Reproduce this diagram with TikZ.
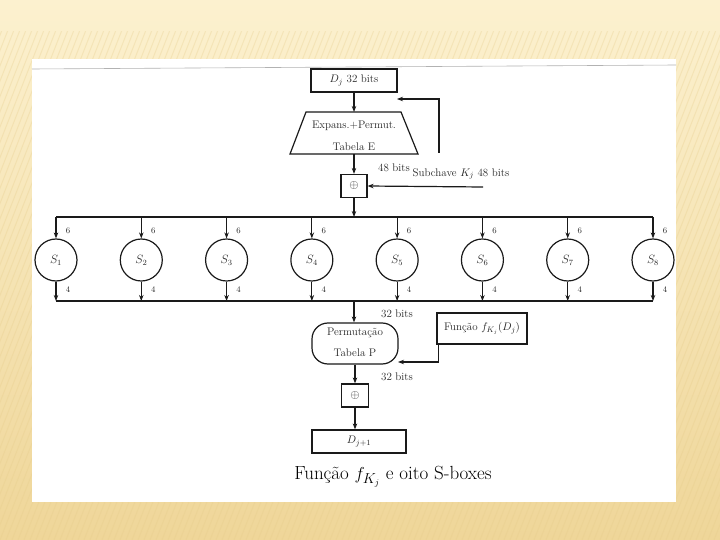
\documentclass[tikz,border=0pt]{standalone}
\usetikzlibrary{arrows.meta,calc}
\definecolor{bgtop}{HTML}{FCF1CF}
\definecolor{bgbot}{HTML}{EFD699}
\definecolor{stripe}{HTML}{E6CC8A}
\definecolor{ink}{HTML}{1A1A1A}
\definecolor{txt}{HTML}{262626}
\begin{document}
\begin{tikzpicture}[x=1pt,y=-1pt,
  ln/.style={line width=1.2pt, draw=ink},
  arr/.style={ln,-{Stealth[length=6pt,width=4.5pt]}},
  box/.style={draw=ink, line width=1.2pt, rectangle, inner sep=0pt, font=\fontsize{11}{13}\selectfont, text=txt},
  xbox/.style={box, font=\fontsize{13}{14}\selectfont},
  sbox/.style={draw=ink, line width=1.2pt, circle, minimum size=42pt, inner sep=0pt, font=\fontsize{12}{13}\selectfont, text=txt},
  lbl/.style={font=\fontsize{11}{13}\selectfont, text=txt, inner sep=0pt},
  num/.style={font=\fontsize{8.5}{10}\selectfont, text=txt, inner sep=0pt}]
\useasboundingbox (0,0) rectangle (720,540);
% background
\fill[top color=bgtop, bottom color=bgbot] (0,0) rectangle (720,540);
\begin{scope}
  \clip (0,32) rectangle (720,540);
  \foreach \i in {-240,-234,...,720} {
    \draw[stripe, line width=1pt, opacity=0.3] (\i,540) -- ++(200,-510);
  }
\end{scope}
\fill[white] (32,59) rectangle (676,502);
\draw[black!30, line width=0.6pt] (32,69) -- (676,65);

% top part
\node[box, minimum width=86pt, minimum height=23pt] (Dj) at (354,80.5) {$D_j$ 32 bits};
\coordinate (Etl) at (306,112);
\coordinate (Etr) at (401,112);
\coordinate (Ebr) at (418,154);
\coordinate (Ebl) at (290,154);
\coordinate (Etop) at (354,112);
\coordinate (Ebot) at (354,154);
\draw[ln, line join=miter] (Etl) -- (Etr) -- (Ebr) -- (Ebl) -- cycle;
\node[lbl] (E1) at (354,126) {Expans.+Permut.};
\node[lbl] (E2) at (354,147) {Tabela E};
\node[xbox, minimum width=26pt, minimum height=23pt] (X1) at (354,186) {$\oplus$};
\draw[arr] (Dj.south) -- (Etop);
\draw[arr] (Ebot) -- (X1.north);
\coordinate (K1) at (439,153);
\coordinate (K2) at (397,99);
\draw[arr] (K1) |- (K2);
\coordinate (K3) at (483,187);
\draw[arr] (K3) -- (X1.east);
\node[lbl] (L48) at (394,168) {48 bits};
\node[lbl] (Sub) at (461,174) {Subchave $K_j$ 48 bits};

% buses and S-boxes
\coordinate (TM) at (354,217);
\coordinate (BM) at (354,301);
\foreach \i in {1,...,8} {
  \pgfmathsetmacro\xx{56+85.286*(\i-1)}
  \node[sbox] (S\i) at (\xx,260) {$S_{\i}$};
  \coordinate (T\i) at (\xx,217);
  \coordinate (B\i) at (\xx,301);
  \draw[arr] (T\i) -- (S\i.north);
  \draw[arr] (S\i.south) -- (B\i);
  \node[num] (six\i) at (\xx+12,231) {6};
  \node[num] (four\i) at (\xx+12,290) {4};
}
\draw[ln] (T1) -- (T8);
\draw[ln] (B1) -- (B8);
\draw[arr] (X1.south) -- (TM);

% bottom part
\node[box, rounded corners=16pt, minimum width=86pt, minimum height=41pt] (P) at (355,343.5) {};
\node[lbl] (P1) at (355,333) {Permutação};
\node[lbl] (P2) at (355,353) {Tabela P};
\draw[arr] (BM) -- (BM |- P.north);
\node[lbl] (b32a) at (397,314) {32 bits};
\node[lbl] (b32b) at (397,377) {32 bits};
\node[box, minimum width=90pt, minimum height=31pt] (F) at (482,328.5) {Função $f_{K_j}(D_j)$};
\coordinate (F1) at ($(F.south west)+(2,0)$);
\coordinate (K4) at (398,362);
\draw[arr] (F1) |- (K4);
\node[xbox, minimum width=27pt, minimum height=23pt] (X2) at (355,395.5) {$\oplus$};
\draw[arr] (P.south) -- (X2.north);
\node[box, minimum width=94pt, minimum height=23pt] (D1) at (359,441.5) {$D_{j+1}$};
\draw[arr] (X2.south) -- (X2.south |- D1.north);
\node[font=\fontsize{19}{22}\selectfont, inner sep=0pt] (cap) at (393,477) {Função $f_{K_j}$ e oito S-boxes};
\end{tikzpicture}
\end{document}
